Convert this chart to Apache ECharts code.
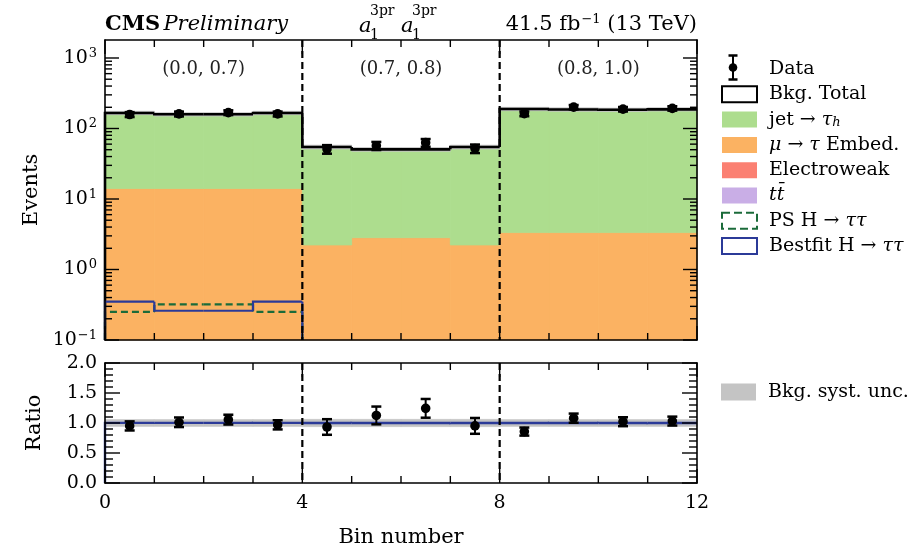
<!DOCTYPE html>
<html><head><meta charset="utf-8">
<script src="https://cdn.jsdelivr.net/npm/echarts@6/dist/echarts.min.js"></script>
<style>html,body{margin:0;padding:0;background:#fff}#c{width:919px;height:554px}</style>
</head><body><div id="c"></div>
<script>
// ---------------- data ----------------
const binLowEdges   = [0,1,2,3,4,5,6,7,8,9,10,11];
const jetFakes      = [152, 145, 145, 152, 52.4, 47.8, 47.8, 52.4, 185.7, 182.7, 180.7, 183.7];
const embed         = [14, 14, 14, 14, 2.2, 2.8, 2.8, 2.2, 3.3, 3.3, 3.3, 3.3];
const electroweak   = [0.05, 0.05, 0.05, 0.05, 0.02, 0.02, 0.02, 0.02, 0.03, 0.03, 0.03, 0.03];
const ttbar         = [0.02, 0.02, 0.02, 0.02, 0.01, 0.01, 0.01, 0.01, 0.01, 0.01, 0.01, 0.01];
const psHtt         = [0.25, 0.32, 0.32, 0.25, 0.05, 0.05, 0.05, 0.05, 0.06, 0.06, 0.06, 0.06];
const bestfitHtt    = [0.35, 0.26, 0.26, 0.35, 0.05, 0.05, 0.05, 0.05, 0.06, 0.06, 0.06, 0.06];
const dataCounts    = [158, 161, 168, 161, 51, 57, 63, 52, 162, 201, 188, 193];
const dataErrors    = [12.6, 12.7, 13.0, 12.7, 7.1, 7.5, 7.9, 7.2, 12.7, 14.2, 13.7, 13.9];
const bkgRelUnc     = [0.055, 0.055, 0.055, 0.055, 0.06, 0.06, 0.06, 0.06, 0.055, 0.055, 0.055, 0.055];
const regionLabels  = ['(0.0, 0.7)', '(0.7, 0.8)', '(0.8, 1.0)'];
const regionCenters = [2, 6, 10];
const separators    = [4, 8];
const xTickLabels   = ['0', '4', '8', '12'];
const ratioTicks    = ['0.0', '0.5', '1.0', '1.5', '2.0'];

// ---------------- constants ----------------
const FONT = 'DejaVu Serif';
const Y_MIN = 0.1, Y_MAX = 1800;
const REGION_LABEL_Y = 680;
const C = {
  jet: '#addd8e', emb: '#fbb262', ew: '#fb8072', tt: '#c9aee6',
  ps: '#1b6b3a', best: '#2b3a98', unc: '#c4c4c4'
};
const nb = binLowEdges.length;
const totalBkg = binLowEdges.map((_, i) => jetFakes[i] + embed[i] + electroweak[i] + ttbar[i]);

// ---------------- tick decoration positions ----------------
const xTickRows = [];
for (let v = 0; v <= 12; v++) xTickRows.push([v, v % 4 === 0 ? 14 : 7]);
const logTickRows = [];
for (let e = -1; e <= 3; e++) for (let m = 1; m <= 9; m++) {
  const v = m * Math.pow(10, e); if (v < Y_MAX) logTickRows.push([0, v, m === 1 ? 14 : 7]);
}
const ratioTickRows = [];
for (let k = 0; k <= 20; k++) ratioTickRows.push([0, k / 10, k % 5 === 0 ? 15 : 8]);

// ---------------- renderers ----------------
function rectRender(floor) {
  return function (params, api) {
    const i = api.value(0), lo = Math.max(api.value(1), floor), hi = api.value(2);
    if (!(hi > floor)) return;
    const a = api.coord([i, hi]), b = api.coord([i + 1, lo]);
    const col = api.visual('color');
    return {type: 'rect', shape: {x: a[0], y: a[1], width: b[0] - a[0], height: b[1] - a[1]},
            style: {fill: col, stroke: col, lineWidth: 0.8}};
  };
}
function stepRows(values) { return values.map((v, i) => [binLowEdges[i], v, i > 0 ? values[i - 1] : -1]); }
function stepRender(floor, width, dash) {
  return function (params, api) {
    const cs = params.coordSys, bottom = cs.y + cs.height;
    const i = api.value(0), v = api.value(1), pv = api.value(2);
    const yOf = val => val > floor ? Math.min(api.coord([i, val])[1], bottom) : bottom;
    const x0 = api.coord([i, 1])[0], x1 = api.coord([i + 1, 1])[0];
    const y = yOf(v);
    const py = pv === -1 ? bottom : yOf(pv);
    let pts;
    if (v > floor) pts = (py !== y) ? [[x0, py], [x0, y], [x1, y]] : [[x0, y], [x1, y]];
    else if (py !== y) pts = [[x0, py], [x0, y]];
    else return;
    return {type: 'polyline', shape: {points: pts},
            style: {stroke: api.visual('color'), lineWidth: width, lineDash: dash || null, fill: null, lineJoin: 'miter'}};
  };
}
function errRender(params, api) {
  const x = api.value(0), v = api.value(1), e = api.value(2);
  const c = api.coord([x, v]), hi = api.coord([x, v + e]), lo = api.coord([x, v - e]);
  const st = {stroke: '#000', lineWidth: 2};
  return {type: 'group', children: [
    {type: 'line', shape: {x1: c[0], y1: hi[1], x2: c[0], y2: lo[1]}, style: st},
    {type: 'line', shape: {x1: c[0] - 5, y1: hi[1], x2: c[0] + 5, y2: hi[1]}, style: {stroke: '#000', lineWidth: 2.5}},
    {type: 'line', shape: {x1: c[0] - 5, y1: lo[1], x2: c[0] + 5, y2: lo[1]}, style: {stroke: '#000', lineWidth: 2.5}},
    {type: 'circle', shape: {cx: c[0], cy: c[1], r: 4.8}, style: {fill: '#000'}}
  ]};
}
function sepRender(params, api) {
  const cs = params.coordSys;
  const x = api.coord([api.value(0), 1])[0];
  return {type: 'line', shape: {x1: x, y1: cs.y, x2: x, y2: cs.y + cs.height},
          style: {stroke: '#000', lineWidth: 2.2, lineDash: [7, 4]}};
}
const tickStyle = {stroke: '#000', lineWidth: 1.4};
function xTickRender(params, api) {
  const cs = params.coordSys;
  const x = api.coord([api.value(0), 1])[0], L = api.value(1);
  return {type: 'group', children: [
    {type: 'line', shape: {x1: x, y1: cs.y, x2: x, y2: cs.y + L}, style: tickStyle},
    {type: 'line', shape: {x1: x, y1: cs.y + cs.height - L, x2: x, y2: cs.y + cs.height}, style: tickStyle}
  ]};
}
function yTickRender(params, api) {
  const cs = params.coordSys;
  const y = api.coord([0, api.value(1)])[1], L = api.value(2);
  return {type: 'group', children: [
    {type: 'line', shape: {x1: cs.x, y1: y, x2: cs.x + L, y2: y}, style: tickStyle},
    {type: 'line', shape: {x1: cs.x + cs.width - L, y1: y, x2: cs.x + cs.width, y2: y}, style: tickStyle}
  ]};
}
function regionLabelRender(params, api) {
  const p = api.coord([api.value(0), api.value(1)]);
  return {type: 'text', x: p[0], y: p[1],
          style: {text: regionLabels[api.value(2)], fill: '#222', font: '18px "' + FONT + '"', align: 'center', verticalAlign: 'middle'}};
}

// ---------------- stacked background ----------------
const layers = [
  {name: 'tt̄', values: ttbar, color: C.tt},
  {name: 'Electroweak', values: electroweak, color: C.ew},
  {name: 'μ → τ Embed.', values: embed, color: C.emb},
  {name: 'jet → τh', values: jetFakes, color: C.jet}
];
let cum = new Array(nb).fill(0);
const stackSeries = layers.map(L => {
  const rows = L.values.map((v, i) => [binLowEdges[i], cum[i], cum[i] + v]);
  cum = cum.map((c, i) => c + L.values[i]);
  return {type: 'custom', name: L.name, xAxisIndex: 0, yAxisIndex: 0, data: rows, encode: {x: 0, y: 2},
          itemStyle: {color: L.color}, renderItem: rectRender(Y_MIN), z: 2, silent: true};
});

function deco(name, xi, yi, data, render, z) {
  return {type: 'custom', name: name, xAxisIndex: xi, yAxisIndex: yi, z: z, silent: true,
          data: data, encode: {x: 0, y: 1}, renderItem: render};
}

const series = [
  ...stackSeries,
  {type: 'custom', name: 'bkgBandTop', xAxisIndex: 0, yAxisIndex: 0, z: 3, silent: true,
   data: totalBkg.map((t, i) => [binLowEdges[i], t * (1 - bkgRelUnc[i]), t * (1 + bkgRelUnc[i])]), encode: {x: 0, y: 2},
   itemStyle: {color: C.unc}, renderItem: rectRender(Y_MIN)},
  {type: 'custom', name: 'Bkg. Total', xAxisIndex: 0, yAxisIndex: 0, z: 4, silent: true,
   data: stepRows(totalBkg), encode: {x: 0, y: 1}, itemStyle: {color: '#000'}, renderItem: stepRender(Y_MIN, 2.6)},
  {type: 'custom', name: 'PS H → ττ', xAxisIndex: 0, yAxisIndex: 0, z: 5, silent: true,
   data: stepRows(psHtt), encode: {x: 0, y: 1}, itemStyle: {color: C.ps}, renderItem: stepRender(Y_MIN, 2.2, [7, 4])},
  {type: 'custom', name: 'Bestfit H → ττ', xAxisIndex: 0, yAxisIndex: 0, z: 6, silent: true,
   data: stepRows(bestfitHtt), encode: {x: 0, y: 1}, itemStyle: {color: C.best}, renderItem: stepRender(Y_MIN, 2.2)},
  deco('xTicksTop', 0, 0, xTickRows.map(r => [r[0], r[1]]), xTickRender, 11),
  deco('yTicksTop', 0, 0, logTickRows, yTickRender, 11),
  deco('sepTop', 0, 0, separators.map(s => [s, 1]), sepRender, 12),
  {type: 'custom', name: 'regionLabels', xAxisIndex: 0, yAxisIndex: 0, z: 12, silent: true,
   data: regionCenters.map((x, k) => [x, REGION_LABEL_Y, k]), encode: {x: 0, y: 1}, renderItem: regionLabelRender},
  {type: 'custom', name: 'Data', xAxisIndex: 0, yAxisIndex: 0, z: 13, silent: true,
   data: dataCounts.map((d, i) => [binLowEdges[i] + 0.5, d, dataErrors[i]]), encode: {x: 0, y: 1},
   itemStyle: {color: '#000'}, renderItem: errRender},
  // ratio panel
  {type: 'custom', name: 'Bkg. syst. unc.', xAxisIndex: 2, yAxisIndex: 2, z: 3, silent: true,
   data: bkgRelUnc.map((u, i) => [binLowEdges[i], 1 - u, 1 + u]), encode: {x: 0, y: 2},
   itemStyle: {color: C.unc}, renderItem: rectRender(0)},
  {type: 'custom', name: 'bestRatio', xAxisIndex: 2, yAxisIndex: 2, z: 5, silent: true,
   data: stepRows(totalBkg.map((t, i) => (t + bestfitHtt[i]) / t)), encode: {x: 0, y: 1},
   itemStyle: {color: C.best}, renderItem: stepRender(0, 2.4)},
  deco('xTicksRatio', 2, 2, xTickRows.map(r => [r[0], r[1]]), xTickRender, 11),
  deco('yTicksRatio', 2, 2, ratioTickRows, yTickRender, 11),
  deco('sepRatio', 2, 2, separators.map(s => [s, 1]), sepRender, 12),
  {type: 'custom', name: 'dataRatio', xAxisIndex: 2, yAxisIndex: 2, z: 13, silent: true,
   data: dataCounts.map((d, i) => [binLowEdges[i] + 0.5, d / totalBkg[i], dataErrors[i] / totalBkg[i]]), encode: {x: 0, y: 1},
   itemStyle: {color: '#000'}, renderItem: errRender}
];

// ---------------- axes ----------------
const frame = {show: true, onZero: false, lineStyle: {color: '#000', width: 1.6}};
const noTick = {show: false};
function xAx(grid, pos, labels) {
  return {type: 'value', gridIndex: grid, position: pos, min: 0, max: 12, interval: 4, z: 10,
    axisLine: frame, splitLine: {show: false}, axisTick: noTick, minorTick: noTick,
    axisLabel: {show: labels, color: '#000', fontFamily: FONT, fontSize: 19, margin: 11,
                formatter: v => xTickLabels[Math.round(v / 4)]},
    name: labels ? 'Bin number' : '', nameLocation: 'middle', nameGap: 44,
    nameTextStyle: {color: '#000', fontFamily: FONT, fontSize: 21}};
}
const logLabelRich = {n: {fontFamily: FONT, fontSize: 19, color: '#000'},
                      s: {fontFamily: FONT, fontSize: 13, color: '#000', verticalAlign: 'top', padding: [0, 0, 9, 1]}};
function yLog(pos, labels) {
  return {type: 'log', logBase: 10, gridIndex: 0, position: pos, min: Y_MIN, max: Y_MAX, z: 10,
    axisLine: frame, splitLine: {show: false}, axisTick: noTick, minorTick: noTick,
    axisLabel: {show: labels, showMaxLabel: false, margin: 8,
      formatter: v => { const e = Math.round(Math.log10(v)); return '{n|10}{s|' + (e < 0 ? '−' + (-e) : e) + '}'; },
      rich: logLabelRich},
    name: labels ? 'Events' : '', nameLocation: 'middle', nameGap: 60,
    nameTextStyle: {color: '#000', fontFamily: FONT, fontSize: 21}};
}
function yRatio(pos, labels) {
  return {type: 'value', gridIndex: 1, position: pos, min: 0, max: 2, interval: 0.5, z: 10,
    axisLine: frame, splitLine: {show: false}, axisTick: noTick, minorTick: noTick,
    axisLabel: {show: labels, color: '#000', fontFamily: FONT, fontSize: 19, margin: 8,
                formatter: v => ratioTicks[Math.round(v * 2)]},
    name: labels ? 'Ratio' : '', nameLocation: 'middle', nameGap: 60,
    nameTextStyle: {color: '#000', fontFamily: FONT, fontSize: 21}};
}

// ---------------- legend ----------------
const legendRich = {
  sp: {width: 7},
  it: {fontStyle: 'italic', fontFamily: FONT, fontSize: 19, color: '#000'},
  sub: {fontStyle: 'italic', fontFamily: FONT, fontSize: 13, color: '#000', verticalAlign: 'bottom', padding: [8, 0, 0, 0]}
};
const legendText = {
  'Data': '{sp| }Data',
  'Bkg. Total': '{sp| }Bkg. Total',
  'jet → τh': '{sp| }jet → {it|τ}{sub|h}',
  'μ → τ Embed.': '{sp| }{it|μ} → {it|τ} Embed.',
  'Electroweak': '{sp| }Electroweak',
  'tt̄': '{sp| }{it|tt̄}',
  'PS H → ττ': '{sp| }PS H → {it|ττ}',
  'Bestfit H → ττ': '{sp| }Bestfit H → {it|ττ}',
  'Bkg. syst. unc.': '{sp| }Bkg. syst. unc.'
};
const legendTextStyle = {color: '#000', fontFamily: FONT, fontSize: 19, lineHeight: 20, rich: legendRich};

// legend error-bar glyph for "Data" (drawn over an empty legend icon slot)
const LX = 733, LY = 67.5;
const dataLegendGlyph = {type: 'group', z: 30, children: [
  {type: 'line', shape: {x1: LX, y1: LY - 12, x2: LX, y2: LY + 12}, style: {stroke: '#000', lineWidth: 2}},
  {type: 'line', shape: {x1: LX - 4.5, y1: LY - 12, x2: LX + 4.5, y2: LY - 12}, style: {stroke: '#000', lineWidth: 2.5}},
  {type: 'line', shape: {x1: LX - 4.5, y1: LY + 12, x2: LX + 4.5, y2: LY + 12}, style: {stroke: '#000', lineWidth: 2.5}},
  {type: 'circle', shape: {cx: LX, cy: LY, r: 4.3}, style: {fill: '#000'}}
]};

const option = {
  animation: false,
  textStyle: {fontFamily: FONT},
  grid: [
    {left: 105, top: 40, width: 592, height: 300},
    {left: 105, top: 363, width: 592, height: 120}
  ],
  xAxis: [xAx(0, 'bottom', false), xAx(0, 'top', false), xAx(1, 'bottom', true), xAx(1, 'top', false)],
  yAxis: [yLog('left', true), yLog('right', false), yRatio('left', true), yRatio('right', false)],
  legend: [
    {orient: 'vertical', left: 716, top: 54, itemWidth: 35, itemHeight: 16, itemGap: 5.3, selectedMode: false,
     formatter: n => legendText[n] || n, textStyle: legendTextStyle,
     data: [
       {name: 'Data', icon: 'rect', itemStyle: {color: 'rgba(0,0,0,0)', opacity: 0}},
       {name: 'Bkg. Total', icon: 'rect', itemStyle: {color: '#fff', borderColor: '#000', borderWidth: 2}},
       {name: 'jet → τh', icon: 'rect', itemStyle: {color: C.jet}},
       {name: 'μ → τ Embed.', icon: 'rect', itemStyle: {color: C.emb}},
       {name: 'Electroweak', icon: 'rect', itemStyle: {color: C.ew}},
       {name: 'tt̄', icon: 'rect', itemStyle: {color: C.tt}},
       {name: 'PS H → ττ', icon: 'rect', itemStyle: {color: '#fff', borderColor: C.ps, borderWidth: 2, borderType: 'dashed'}},
       {name: 'Bestfit H → ττ', icon: 'rect', itemStyle: {color: '#fff', borderColor: C.best, borderWidth: 2}}
     ]},
    {orient: 'vertical', left: 716, top: 377, itemWidth: 35, itemHeight: 17, selectedMode: false,
     formatter: n => legendText[n] || n, textStyle: legendTextStyle,
     data: [{name: 'Bkg. syst. unc.', icon: 'rect', itemStyle: {color: C.unc}}]}
  ],
  graphic: [
    dataLegendGlyph,
    {type: 'text', x: 105, y: 25, z: 20, style: {text: '{b|CMS} {i|Preliminary}', verticalAlign: 'middle', align: 'left',
      rich: {b: {fontFamily: FONT, fontSize: 21, fontWeight: 'bold', fill: '#000'},
             i: {fontFamily: FONT, fontSize: 21, fontStyle: 'italic', fill: '#000'}}}},
    {type: 'text', x: 697, y: 25, z: 20, style: {text: '{n|41.5 fb}{s|−1}{n| (13 TeV)}', verticalAlign: 'middle', align: 'right',
      rich: {n: {fontFamily: FONT, fontSize: 21, fill: '#000'},
             s: {fontFamily: FONT, fontSize: 13, fill: '#000', verticalAlign: 'top', padding: [0, 0, 10, 1]}}}},
    {type: 'group', z: 20, children: [
      {type: 'text', x: 359, y: 27, style: {text: 'a', font: 'italic 21px "' + FONT + '"', fill: '#000', verticalAlign: 'middle'}},
      {type: 'text', x: 370, y: 11, style: {text: '3pr', font: '14px "' + FONT + '"', fill: '#000', verticalAlign: 'middle'}},
      {type: 'text', x: 370, y: 35, style: {text: '1', font: '14px "' + FONT + '"', fill: '#000', verticalAlign: 'middle'}},
      {type: 'text', x: 401, y: 27, style: {text: 'a', font: 'italic 21px "' + FONT + '"', fill: '#000', verticalAlign: 'middle'}},
      {type: 'text', x: 412, y: 11, style: {text: '3pr', font: '14px "' + FONT + '"', fill: '#000', verticalAlign: 'middle'}},
      {type: 'text', x: 412, y: 35, style: {text: '1', font: '14px "' + FONT + '"', fill: '#000', verticalAlign: 'middle'}}
    ]}
  ],
  series: series
};
const chart = echarts.init(document.getElementById('c'), null, {renderer: 'canvas'});
chart.setOption(option);
</script></body></html>
